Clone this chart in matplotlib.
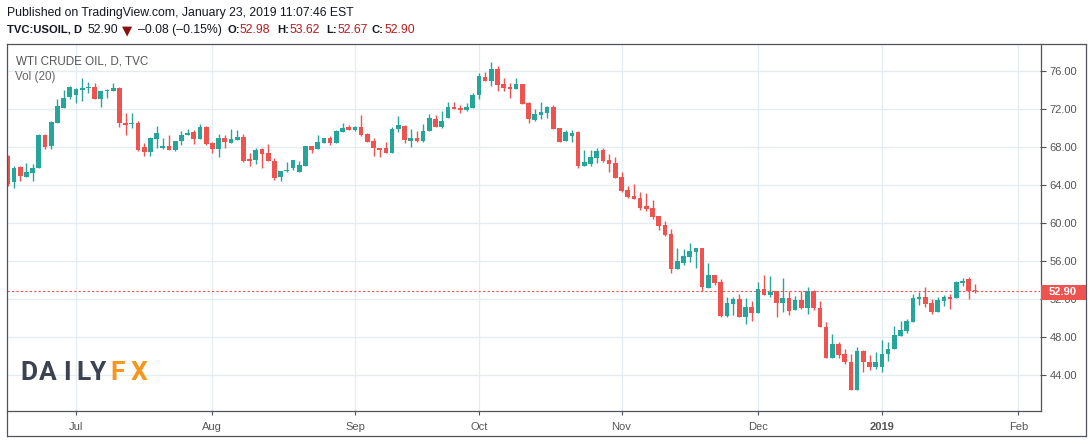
import pandas as pd
import matplotlib.pyplot as plt
from matplotlib.patches import Rectangle
from matplotlib.lines import Line2D

# daily OHLC, TVC:USOIL, 2018-06-15 .. 2019-01-23
opens = [67.09, 64.39, 65.93, 64.91, 65.33, 65.86, 69.30, 68.14, 70.60, 72.18,
         73.33, 73.54, 74.04, 74.20, 74.30, 73.12, 73.96, 73.93, 74.25, 70.60,
         70.42, 70.56, 68.04, 67.51, 68.88, 67.96, 68.14, 67.72, 68.67, 69.26,
         69.61, 68.91, 70.14, 68.46, 67.86, 68.98, 68.49, 68.81, 69.09, 66.77,
         66.67, 67.82, 67.40, 66.56, 64.91, 65.47, 65.86, 65.37, 66.07, 68.14,
         67.86, 68.49, 68.98, 68.49, 69.65, 70.10, 69.82, 70.10, 69.44, 68.67,
         67.90, 67.90, 67.44, 69.90, 70.25, 68.70, 68.98, 68.67, 69.75, 70.98,
         70.14, 71.09, 72.25, 72.14, 71.93, 72.14, 73.51, 75.37, 74.98, 76.25,
         74.70, 74.35, 74.18, 74.67, 72.63, 70.88, 71.40, 71.65, 72.21, 70.04,
         68.67, 69.23, 69.58, 66.07, 66.28, 66.91, 67.68, 66.67, 66.35, 64.88,
         63.51, 62.88, 62.67, 61.82, 61.61, 60.77, 59.82, 58.88, 55.19, 55.79,
         56.46, 56.95, 57.40, 53.23, 54.56, 53.82, 50.25, 51.51, 52.04, 50.14,
         51.19, 50.60, 53.09, 52.46, 52.88, 51.65, 52.14, 50.84, 51.96, 51.12,
         52.88, 51.12, 49.12, 45.79, 47.33, 46.28, 45.44, 42.49, 46.60, 45.44,
         44.88, 44.91, 46.21, 46.81, 48.18, 48.70, 49.65, 52.07, 52.25, 51.61,
         50.67, 51.82, 52.25, 52.18, 53.75, 54.14, 52.98]
highs = [67.20, 66.04, 66.00, 66.35, 66.21, 69.40, 69.40, 70.81, 73.05, 74.04,
         74.50, 74.25, 75.26, 74.90, 74.74, 73.96, 74.18, 74.74, 74.30, 71.58,
         71.58, 70.80, 68.49, 69.05, 70.25, 68.98, 69.33, 68.67, 69.72, 69.93,
         69.86, 70.46, 70.25, 68.56, 69.40, 69.30, 69.93, 69.82, 69.40, 67.44,
         67.90, 67.93, 68.35, 66.84, 65.51, 66.49, 66.63, 66.56, 68.14, 68.14,
         69.30, 69.00, 69.23, 69.82, 70.56, 70.35, 70.25, 71.40, 69.51, 69.02,
         67.96, 68.56, 70.10, 71.30, 70.35, 69.93, 69.72, 70.46, 71.51, 71.40,
         71.82, 72.77, 72.77, 72.46, 72.67, 73.72, 75.79, 75.93, 76.98, 76.56,
         75.30, 74.81, 75.30, 74.67, 72.77, 72.04, 72.77, 72.39, 72.46, 70.04,
         69.82, 69.82, 69.72, 67.72, 67.72, 67.96, 67.90, 67.30, 66.98, 65.40,
         63.89, 64.14, 63.30, 63.19, 62.46, 60.77, 60.20, 59.40, 57.40, 57.30,
         57.93, 57.40, 57.40, 55.82, 54.56, 54.10, 52.25, 52.25, 52.56, 52.14,
         51.82, 53.82, 54.56, 54.46, 52.88, 54.25, 52.88, 52.39, 52.91, 53.33,
         53.02, 51.86, 49.65, 48.39, 47.54, 46.81, 46.28, 47.02, 46.70, 46.18,
         46.49, 47.75, 47.54, 49.23, 49.75, 49.96, 52.60, 52.81, 53.30, 52.04,
         52.25, 52.49, 52.60, 53.93, 54.28, 54.35, 53.62]
lows = [63.90, 63.68, 64.49, 64.85, 64.49, 65.80, 67.82, 67.82, 70.55, 72.10,
        73.05, 72.70, 72.90, 73.68, 73.10, 72.28, 73.16, 73.93, 70.17, 69.30,
        70.00, 67.60, 67.12, 67.12, 67.90, 67.86, 67.72, 67.60, 68.28, 69.26,
        68.35, 68.90, 68.28, 67.44, 67.02, 67.96, 68.49, 68.80, 66.49, 66.00,
        66.25, 65.82, 66.60, 64.56, 64.49, 65.40, 65.61, 65.37, 66.07, 67.44,
        67.86, 68.49, 68.28, 68.49, 69.65, 69.80, 69.72, 69.19, 68.60, 67.12,
        67.02, 67.44, 67.44, 69.65, 68.49, 68.07, 68.53, 68.60, 69.75, 70.14,
        70.07, 71.09, 72.04, 71.65, 71.82, 72.14, 73.12, 74.98, 74.49, 73.96,
        73.96, 73.23, 74.18, 72.53, 70.60, 70.81, 70.98, 71.12, 69.96, 68.60,
        68.67, 68.60, 65.86, 66.07, 66.07, 66.32, 66.42, 65.44, 64.81, 63.33,
        62.70, 62.60, 61.40, 61.30, 60.49, 59.33, 58.70, 54.81, 55.19, 55.61,
        55.93, 55.33, 52.88, 53.23, 53.50, 50.14, 50.14, 50.35, 50.14, 49.44,
        49.75, 50.60, 52.46, 52.25, 50.14, 50.70, 50.35, 50.84, 51.00, 50.42,
        50.91, 49.05, 45.79, 45.79, 45.79, 45.16, 42.42, 42.49, 44.39, 44.53,
        44.67, 44.39, 45.47, 46.81, 48.18, 48.42, 49.65, 51.44, 51.23, 50.46,
        50.67, 51.30, 50.98, 52.18, 53.44, 52.07, 52.67]
closes = [64.14, 65.86, 64.98, 65.40, 65.86, 69.30, 68.00, 70.67, 72.35, 73.19,
          74.32, 74.14, 74.25, 74.39, 73.12, 73.90, 74.00, 74.25, 70.60, 70.32,
          70.60, 67.72, 67.51, 68.98, 69.51, 68.14, 67.72, 68.67, 69.30, 69.51,
          68.88, 70.14, 68.35, 67.86, 68.98, 68.56, 68.88, 69.09, 66.60, 66.60,
          67.72, 67.30, 66.60, 64.81, 65.51, 65.65, 66.63, 66.14, 68.14, 67.72,
          68.56, 68.98, 68.42, 69.72, 70.00, 69.82, 70.10, 69.26, 68.60, 67.90,
          67.75, 67.44, 69.90, 70.35, 68.77, 68.98, 68.67, 69.72, 71.09, 70.14,
          70.77, 72.25, 72.04, 71.93, 72.25, 73.47, 75.51, 74.98, 76.25, 74.60,
          74.28, 74.18, 74.67, 72.60, 70.95, 71.51, 71.68, 72.21, 69.96, 68.60,
          69.58, 69.51, 66.07, 66.46, 66.98, 67.61, 66.60, 66.28, 64.81, 63.44,
          62.81, 62.60, 61.65, 61.51, 60.70, 59.75, 58.77, 55.19, 56.04, 56.56,
          57.09, 57.40, 53.33, 54.56, 53.75, 50.25, 51.61, 52.04, 50.14, 51.19,
          50.60, 53.09, 52.46, 52.81, 51.65, 52.14, 50.77, 51.96, 51.05, 52.88,
          51.12, 49.05, 45.79, 47.33, 46.14, 45.40, 42.42, 46.60, 45.37, 44.88,
          45.44, 46.28, 46.81, 48.28, 48.81, 49.75, 52.18, 52.28, 51.54, 50.67,
          51.93, 52.25, 52.04, 53.82, 53.93, 52.88, 52.90]

last_price = 52.90
price_ticks = [44, 48, 52, 56, 60, 64, 68, 72, 76]
holidays = ['2018-12-25', '2019-01-01']

# trading calendar (weekdays minus the two holidays), extended to Feb 1
cal = pd.bdate_range('2018-06-15', '2019-02-01')
cal = cal[~cal.isin(pd.to_datetime(holidays))]
month_pos = [i for i in range(1, len(cal)) if cal[i].month != cal[i - 1].month]
month_lab = ['2019' if cal[i].month == 1 else cal[i].strftime('%b') for i in month_pos]

W, H = 1092, 443
fig = plt.figure(figsize=(W / 100, H / 100), dpi=100)
fig.patch.set_facecolor('white')

def fx(x):
    return x / W

def fy(y):
    return 1 - y / H

ax = fig.add_axes([fx(7), fy(411), (1040 - 7) / W, (411 - 44) / H])

up_col, dn_col = '#26a69a', '#ef5350'
frame_col = '#50535e'
xs = list(range(len(closes)))
cols = [up_col if c >= o else dn_col for o, c in zip(opens, closes)]
ax.vlines(xs, lows, highs, colors=cols, linewidth=1, zorder=3)
bottoms = [min(o, c) for o, c in zip(opens, closes)]
heights = [max(abs(c - o), 0.08) for o, c in zip(opens, closes)]
ax.bar(xs, heights, bottom=bottoms, width=0.75, color=cols, linewidth=0, zorder=4)

ax.axhline(last_price, color=dn_col, linewidth=0.8, linestyle=(0, (2, 2)), zorder=2)

ax.set_xlim(-0.13, 166.5)
ax.set_ylim(40.24, 78.87)
ax.set_yticks(price_ticks)
ax.set_yticklabels(['%.2f' % p for p in price_ticks])
ax.set_xticks(month_pos)
ax.set_xticklabels(month_lab)
for t in ax.get_xticklabels():
    if t.get_text() == '2019':
        t.set_fontweight('bold')
        t.set_color('#333333')
ax.yaxis.tick_right()
ax.tick_params(axis='y', length=4, width=0.8, color=frame_col, labelsize=8,
               labelcolor='#555555', pad=3)
ax.tick_params(axis='x', length=3, width=0.8, color=frame_col, labelsize=8,
               labelcolor='#555555', pad=5)
for lab in ax.get_xticklabels() + ax.get_yticklabels():
    lab.set_family('Liberation Sans')
ax.grid(True, color='#e3ecf2', linewidth=0.9)
ax.set_axisbelow(True)
for s in ax.spines.values():
    s.set_visible(False)

# frame lines
for (x0, y0, x1, y1) in [(7, 44, 1085.5, 44), (7, 44, 7, 436), (7, 436, 1085.5, 436),
                         (1085.5, 44, 1085.5, 436), (7, 411, 1040.5, 411),
                         (1040.5, 44, 1040.5, 411)]:
    fig.add_artist(Line2D([fx(x0), fx(x1)], [fy(y0), fy(y1)], color=frame_col,
                          linewidth=0.9))

# last price marker
fig.add_artist(Rectangle((fx(1041), fy(299.5)), (1085.5 - 1041) / W, 14.5 / H,
                         facecolor=dn_col, edgecolor='none', zorder=5))
fig.text(fx(1063), fy(292), '%.2f' % last_price, color='white', fontsize=8,
         fontweight='bold', family='Liberation Sans', ha='center', va='center', zorder=6)

# header
fig.text(fx(7), fy(13), 'Published on TradingView.com, January 23, 2019 11:07:46 EST',
         fontsize=8.8, family='Liberation Sans', color='#131722', va='center')
red_txt = '#b71c1c'
pieces = [(7, 'TVC:USOIL, D', 'bold', '#131722'), (88, '52.90', 'normal', '#131722'),
          (138, '–0.08 (–0.15%)', 'normal', '#131722'),
          (227, 'O:', 'bold', '#131722'), (239.5, '52.98', 'normal', red_txt),
          (277, 'H:', 'bold', '#131722'), (290, '53.62', 'normal', red_txt),
          (326, 'L:', 'bold', '#131722'), (337, '52.67', 'normal', red_txt),
          (372, 'C:', 'bold', '#131722'), (384, '52.90', 'normal', red_txt)]
for x, s, w, c in pieces:
    fig.text(fx(x), fy(30), s, fontsize=8.1 if w == 'bold' else 8.8, fontweight=w,
             color=c, family='Liberation Sans', va='center')
fig.text(fx(122), fy(30.5), '▼', fontsize=9.5, color='#8b1010', family='DejaVu Sans',
         va='center')

# legend inside the pane
fig.text(fx(16), fy(61), 'WTI CRUDE OIL, D, TVC', fontsize=8.4, color='#555555',
         family='Liberation Sans', va='center')
fig.text(fx(15), fy(77), 'Vol (20)', fontsize=8.4, color='#666666',
         family='Liberation Sans', va='center')

# DAILYFX watermark
logo = [(20.7, 'D', '#3a434f'), (39.3, 'A', '#3a434f'), (63.5, 'I', '#3a434f'),
        (76, 'L', '#3a434f'), (89.5, 'Y', '#3a434f'), (110.7, 'F', '#f6961e'),
        (130.7, 'X', '#f6961e')]
for x, ch, c in logo:
    fig.text(fx(x), fy(373.5), ch, fontsize=19, fontweight='bold', color=c,
             family='Roboto', va='center', ha='left')

fig.savefig('out.png', dpi=100)
